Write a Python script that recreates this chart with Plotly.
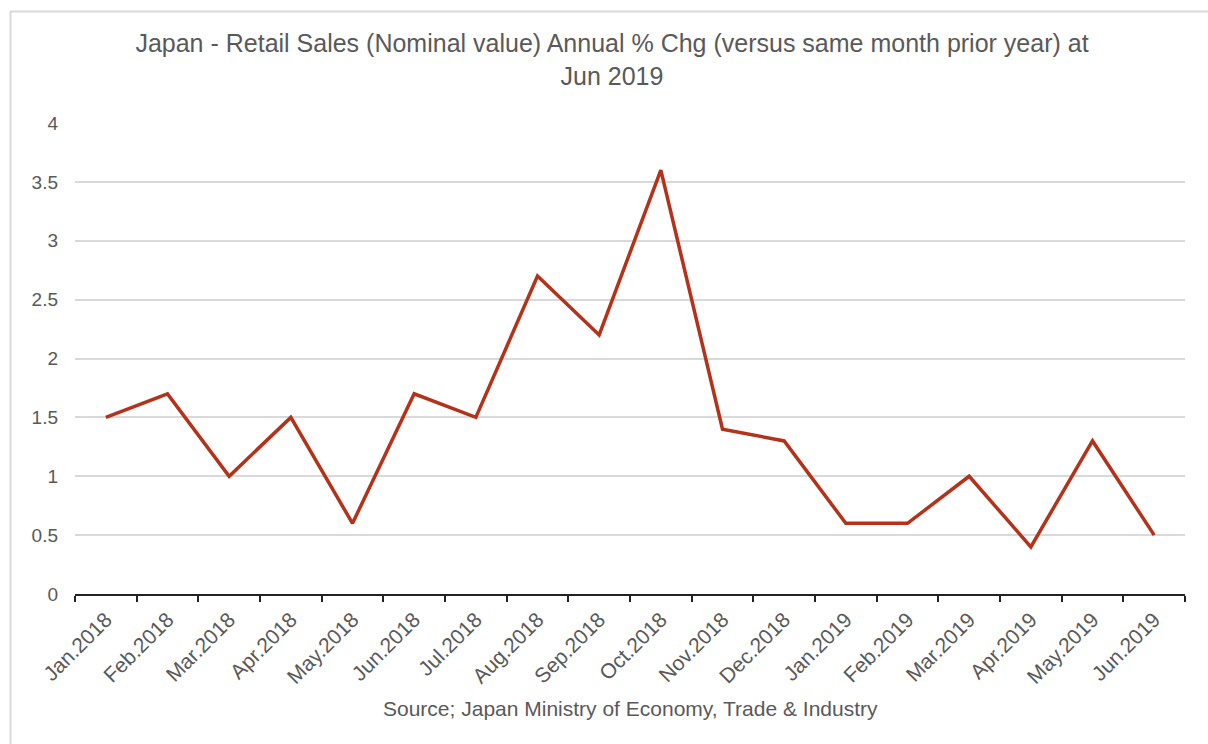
import plotly.graph_objects as go

months = ["Jan.2018", "Feb.2018", "Mar.2018", "Apr.2018", "May.2018", "Jun.2018",
          "Jul.2018", "Aug.2018", "Sep.2018", "Oct.2018", "Nov.2018", "Dec.2018",
          "Jan.2019", "Feb.2019", "Mar.2019", "Apr.2019", "May.2019", "Jun.2019"]
pct_chg = [1.5, 1.7, 1.0, 1.5, 0.6, 1.7, 1.5, 2.7, 2.2, 3.6, 1.4, 1.3,
           0.6, 0.6, 1.0, 0.4, 1.3, 0.5]
y_ticks = [0, 0.5, 1, 1.5, 2, 2.5, 3, 3.5, 4]

W, H = 1208, 744
ML, MR, MT, MB = 75, 23, 123, 150
FONT = "Liberation Sans, Arial, sans-serif"
GREY = "#595959"

fig = go.Figure()
fig.add_trace(go.Scatter(
    x=months, y=pct_chg, mode="lines",
    line=dict(color="#B5321A", width=3.5),
    hoverinfo="x+y",
))

pw, ph = W - ML - MR, H - MT - MB
fig.update_layout(
    width=W, height=H,
    margin=dict(l=ML, r=MR, t=MT, b=MB),
    paper_bgcolor="white", plot_bgcolor="white",
    showlegend=False,
    font=dict(family=FONT, color=GREY, size=18),
    title=dict(
        text="Japan - Retail Sales (Nominal value) Annual % Chg (versus same month prior year) at<br>Jun 2019",
        x=612 / W, xanchor="center", xref="container",
        y=1 - 52 / H, yanchor="top", yref="container",
        font=dict(family=FONT, size=25, color=GREY),
    ),
    xaxis=dict(
        type="category", categoryorder="array", categoryarray=months,
        range=[-0.5, len(months) - 0.5],
        tickson="boundaries", ticks="outside", ticklen=6, tickwidth=2,
        tickcolor="#222222",
        showline=True, linecolor="#222222", linewidth=2,
        showgrid=False, tickangle=-45, ticklabelstandoff=3,
        tickfont=dict(family=FONT, size=21, color=GREY),
    ),
    yaxis=dict(
        range=[0, 4], tickvals=y_ticks, ticktext=[f"{v:g}" for v in y_ticks],
        showgrid=True, gridcolor="#D9D9D9", gridwidth=2,
        zeroline=False, showline=False, ticks="", ticklabelstandoff=16,
        tickfont=dict(family=FONT, size=19, color=GREY),
    ),
    annotations=[dict(
        text="Source; Japan Ministry of Economy, Trade & Industry",
        xref="paper", yref="paper",
        x=(630 - ML) / pw, y=(MT + ph - 708) / ph,
        xanchor="center", yanchor="middle", showarrow=False,
        font=dict(family=FONT, size=21, color=GREY),
    )],
    shapes=[dict(
        type="rect", xref="paper", yref="paper",
        x0=(10.5 - ML) / pw, x1=1.2,
        y0=-0.5, y1=1 + (MT - 11.5) / ph,
        line=dict(color="#D9D9D9", width=2), fillcolor="rgba(0,0,0,0)",
        layer="below",
    )],
)

fig.write_html("out.html")
